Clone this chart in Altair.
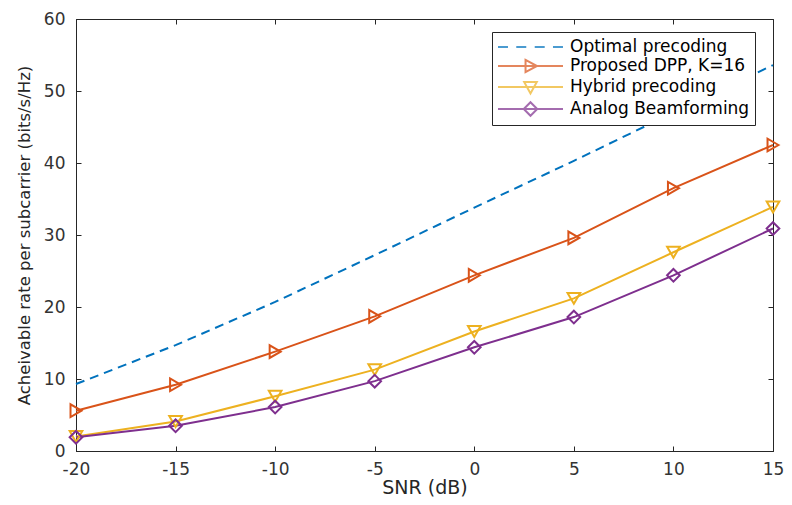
import altair as alt
import pandas as pd

snr = [-20, -15, -10, -5, 0, 5, 10, 15]
optimal = [9.3, 14.7, 20.7, 27.2, 33.8, 40.3, 47.0, 53.6]
proposed = [5.6, 9.2, 13.8, 18.7, 24.4, 29.6, 36.5, 42.5]
hybrid = [2.0, 4.1, 7.6, 11.3, 16.6, 21.2, 27.6, 33.9]
analog = [1.9, 3.5, 6.1, 9.7, 14.4, 18.6, 24.4, 30.9]

series_names = ["Optimal precoding", "Proposed DPP, K=16", "Hybrid precoding", "Analog Beamforming"]
colors = ["#0072BD", "#D95319", "#EDB120", "#7E2F8E"]
marker_shapes = {"Proposed DPP, K=16": "triangle-right", "Hybrid precoding": "triangle-down", "Analog Beamforming": "diamond"}
x_ticks = [-20, -15, -10, -5, 0, 5, 10, 15]
y_ticks = [0, 10, 20, 30, 40, 50, 60]

# legend symbols (line + marker), path units: the symbol box is [-1,1], drawn wider to the right
legend_paths = [
    "M-1,0L0.11,0M1.03,0L2.14,0M3.08,0L4.19,0M5.11,0L6.22,0",
    "M-1,0L6.22,0M2.06,-0.67L3.33,0L2.06,0.67Z",
    "M-1,0L6.22,0M1.91,-0.55L3.31,-0.55L2.61,0.72Z",
    "M-1,0L6.22,0M2.61,-0.75L3.36,0L2.61,0.75L1.86,0Z",
]

rows = []
for name, vals in zip(series_names, [optimal, proposed, hybrid, analog]):
    for s, v in zip(snr, vals):
        rows.append({"snr": s, "rate": v, "series": name})
df = pd.DataFrame(rows)

FONT = "DejaVu Sans"
INWARD = {"expr": "-5"}

x_scale = alt.Scale(domain=[-20, 15], nice=False, zero=False)
y_scale = alt.Scale(domain=[0, 60], nice=False)

x_main = alt.X(
    "snr:Q", scale=x_scale,
    axis=alt.Axis(values=x_ticks, title="SNR (dB)", labelFlush=False, labelPadding=15,
                  tickSize=INWARD, labelExpr="'' + datum.value",
                  titleY=36, titleBaseline="middle", titleFontSize=19),
)
y_main = alt.Y(
    "rate:Q", scale=y_scale,
    axis=alt.Axis(values=y_ticks, title="Acheivable rate per subcarrier (bits/s/Hz)", labelPadding=16,
                  tickSize=INWARD, titleX=-52, titleBaseline="middle", titleFontSize=16.5, labelFlush=False),
)
x_top = alt.X(
    "snr:Q", scale=x_scale,
    axis=alt.Axis(orient="top", values=x_ticks, title=None, labels=False, grid=False, domain=False, tickSize=INWARD),
)
y_right = alt.Y(
    "rate:Q", scale=y_scale,
    axis=alt.Axis(orient="right", values=y_ticks, title=None, labels=False, grid=False, domain=False, tickSize=INWARD),
)
x_plain = alt.X("snr:Q", scale=x_scale, axis=None)
y_plain = alt.Y("rate:Q", scale=y_scale, axis=None)

color_scale = alt.Scale(domain=series_names, range=colors)

leg = alt.Legend(
    title=None,
    orient="none",
    legendX=416,
    legendY=13,
    symbolSize=324,
    symbolStrokeWidth=2,
    labelFont=FONT,
    labelFontSize=17,
    labelColor="#000000",
    labelOffset=53,
    labelLimit=400,
    labelExpr="datum.label + '\u00a0\u00a0\u00a0'",
    padding=5,
    rowPadding=0,
    fillColor="white",
    strokeColor="#262626",
    cornerRadius=0,
)

# legend-only layer: no rows pass the filter, the legend is built from the scale domains
legend_layer = (
    alt.Chart(df)
    .transform_filter("datum.snr > 1000")
    .mark_point(filled=False, size=324, strokeWidth=2)
    .encode(
        x=x_top,
        y=y_right,
        color=alt.Color("series:N", scale=color_scale, legend=leg),
        shape=alt.Shape("series:N", scale=alt.Scale(domain=series_names, range=legend_paths), legend=leg),
    )
)

line_dashed = (
    alt.Chart(df)
    .transform_filter(alt.datum.series == series_names[0])
    .mark_line(strokeWidth=2, strokeDash=[9, 6])
    .encode(x=x_main, y=y_main, color=alt.Color("series:N", scale=color_scale))
)
lines_solid = (
    alt.Chart(df)
    .transform_filter(alt.datum.series != series_names[0])
    .mark_line(strokeWidth=2)
    .encode(x=x_plain, y=y_plain, color=alt.Color("series:N", scale=color_scale))
)

marker_layers = []
for name, shp in marker_shapes.items():
    marker_layers.append(
        alt.Chart(df)
        .transform_filter(alt.datum.series == name)
        .mark_point(shape=shp, filled=False, size=160, strokeWidth=2, opacity=1)
        .encode(x=x_plain, y=y_plain, color=alt.Color("series:N", scale=color_scale))
    )

chart = (
    alt.layer(legend_layer, line_dashed, lines_solid, *marker_layers)
    .resolve_axis(x="independent", y="independent")
    .properties(
        width=697,
        height=432,
        autosize=alt.AutoSizeParams(type="none"),
        padding={"left": 68, "top": 11, "right": 11, "bottom": 46},
    )
    .configure_view(stroke="#262626", strokeWidth=1)
    .configure_axis(
        grid=True,
        gridColor="#e2e2e2",
        domainColor="#262626",
        tickColor="#262626",
        labelFont=FONT,
        labelFontSize=17,
        labelColor="#333333",
        titleFont=FONT,
        titleFontWeight="normal",
        titleColor="#262626",
    )
)

chart.save("out.html", embed_options={"renderer": "svg", "actions": False})
